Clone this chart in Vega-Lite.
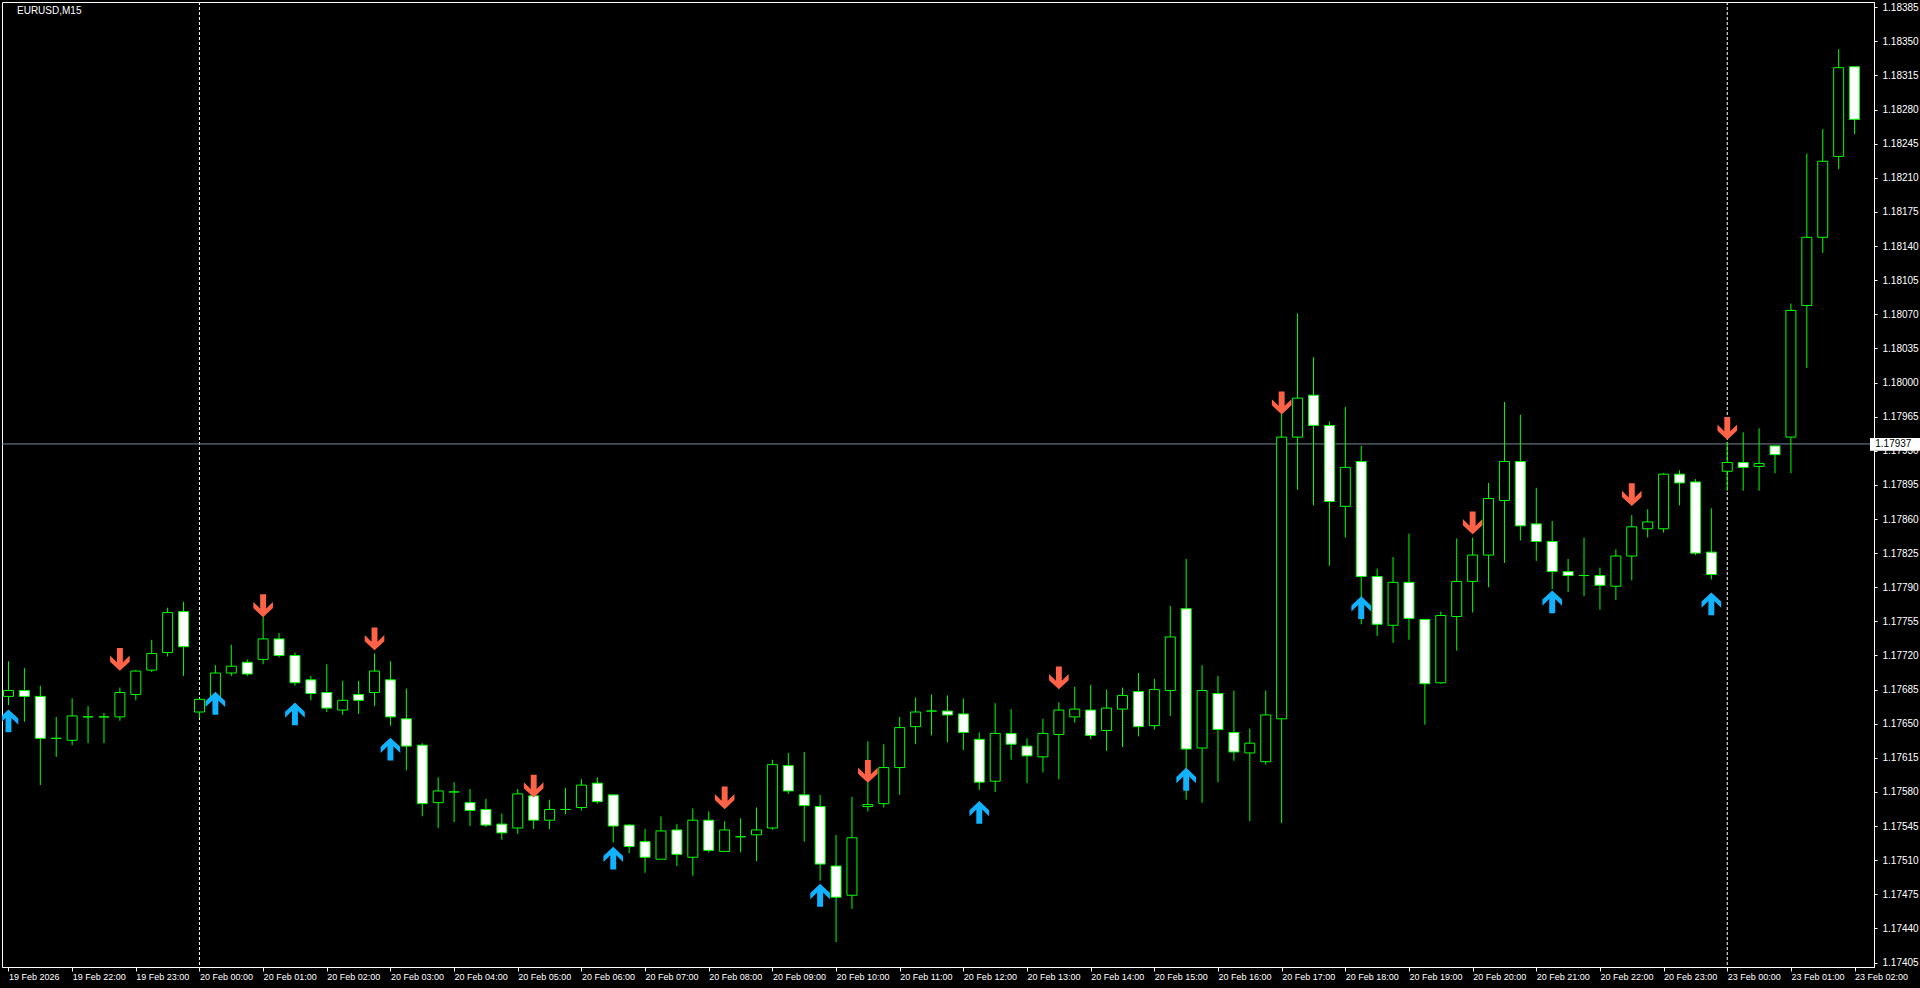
{
  "$schema": "https://vega.github.io/schema/vega-lite/v6.json",
  "width": 1872,
  "height": 965,
  "autosize": "none",
  "padding": {"left": 2, "top": 2, "right": 46, "bottom": 21},
  "background": "#000000",
  "config": {"view": {"fill": "#000000", "stroke": "#FFFFFF", "strokeWidth": 1}, "axis": {"grid": false, "labelOverlap": false, "labelFlush": false, "labelBound": false}},
  "title": {"text": "EURUSD,M15", "anchor": "start", "offset": -14, "dx": 15, "color": "#FFFFFF", "font": "Liberation Sans", "fontSize": 10, "fontWeight": "normal", "frame": "group"},
  "datasets": {
    "candles": [
      {"k":-12,"o":1.17678,"h":1.17714,"l":1.17669,"c":1.17684},
      {"k":-11,"o":1.17684,"h":1.17707,"l":1.17652,"c":1.17678},
      {"k":-10,"o":1.17678,"h":1.17689,"l":1.17587,"c":1.17635},
      {"k":-9,"o":1.17635,"h":1.17657,"l":1.17616,"c":1.17635},
      {"k":-8,"o":1.17633,"h":1.17676,"l":1.17628,"c":1.17658},
      {"k":-7,"o":1.17657,"h":1.17668,"l":1.17630,"c":1.17657},
      {"k":-6,"o":1.17657,"h":1.17661,"l":1.17630,"c":1.17657},
      {"k":-5,"o":1.17657,"h":1.17687,"l":1.17653,"c":1.17682},
      {"k":-4,"o":1.17680,"h":1.17705,"l":1.17674,"c":1.17704},
      {"k":-3,"o":1.17705,"h":1.17736,"l":1.17703,"c":1.17722},
      {"k":-2,"o":1.17723,"h":1.17769,"l":1.17719,"c":1.17764},
      {"k":-1,"o":1.17765,"h":1.17775,"l":1.17699,"c":1.17729},
      {"k":0,"o":1.17662,"h":1.17676,"l":1.17656,"c":1.17675},
      {"k":1,"o":1.17676,"h":1.17710,"l":1.17672,"c":1.17702},
      {"k":2,"o":1.17702,"h":1.17731,"l":1.17699,"c":1.17709},
      {"k":3,"o":1.17713,"h":1.17716,"l":1.17699,"c":1.17701},
      {"k":4,"o":1.17716,"h":1.17760,"l":1.17711,"c":1.17737},
      {"k":5,"o":1.17737,"h":1.17743,"l":1.17718,"c":1.17720},
      {"k":6,"o":1.17720,"h":1.17723,"l":1.17689,"c":1.17692},
      {"k":7,"o":1.17695,"h":1.17699,"l":1.17674,"c":1.17681},
      {"k":8,"o":1.17682,"h":1.17711,"l":1.17662,"c":1.17666},
      {"k":9,"o":1.17664,"h":1.17694,"l":1.17659,"c":1.17674},
      {"k":10,"o":1.17680,"h":1.17694,"l":1.17660,"c":1.17674},
      {"k":11,"o":1.17682,"h":1.17722,"l":1.17668,"c":1.17704},
      {"k":12,"o":1.17695,"h":1.17714,"l":1.17648,"c":1.17657},
      {"k":13,"o":1.17655,"h":1.17686,"l":1.17602,"c":1.17627},
      {"k":14,"o":1.17628,"h":1.17630,"l":1.17555,"c":1.17568},
      {"k":15,"o":1.17569,"h":1.17595,"l":1.17543,"c":1.17581},
      {"k":16,"o":1.17580,"h":1.17590,"l":1.17549,"c":1.17580},
      {"k":17,"o":1.17569,"h":1.17583,"l":1.17545,"c":1.17561},
      {"k":18,"o":1.17562,"h":1.17573,"l":1.17544,"c":1.17546},
      {"k":19,"o":1.17547,"h":1.17558,"l":1.17531,"c":1.17538},
      {"k":20,"o":1.17543,"h":1.17583,"l":1.17537,"c":1.17578},
      {"k":21,"o":1.17576,"h":1.17579,"l":1.17542,"c":1.17551},
      {"k":22,"o":1.17551,"h":1.17572,"l":1.17542,"c":1.17562},
      {"k":23,"o":1.17562,"h":1.17584,"l":1.17557,"c":1.17562},
      {"k":24,"o":1.17564,"h":1.17593,"l":1.17561,"c":1.17587},
      {"k":25,"o":1.17589,"h":1.17595,"l":1.17568,"c":1.17570},
      {"k":26,"o":1.17577,"h":1.17577,"l":1.17528,"c":1.17545},
      {"k":27,"o":1.17546,"h":1.17547,"l":1.17517,"c":1.17524},
      {"k":28,"o":1.17529,"h":1.17542,"l":1.17497,"c":1.17513},
      {"k":29,"o":1.17511,"h":1.17555,"l":1.17511,"c":1.17540},
      {"k":30,"o":1.17541,"h":1.17547,"l":1.17504,"c":1.17516},
      {"k":31,"o":1.17513,"h":1.17563,"l":1.17494,"c":1.17551},
      {"k":32,"o":1.17551,"h":1.17560,"l":1.17518,"c":1.17520},
      {"k":33,"o":1.17519,"h":1.17550,"l":1.17519,"c":1.17541},
      {"k":34,"o":1.17534,"h":1.17553,"l":1.17518,"c":1.17534},
      {"k":35,"o":1.17536,"h":1.17564,"l":1.17509,"c":1.17541},
      {"k":36,"o":1.17543,"h":1.17613,"l":1.17541,"c":1.17608},
      {"k":37,"o":1.17607,"h":1.17620,"l":1.17578,"c":1.17581},
      {"k":38,"o":1.17577,"h":1.17621,"l":1.17529,"c":1.17566},
      {"k":39,"o":1.17565,"h":1.17577,"l":1.17489,"c":1.17506},
      {"k":40,"o":1.17504,"h":1.17536,"l":1.17426,"c":1.17472},
      {"k":41,"o":1.17474,"h":1.17575,"l":1.17460,"c":1.17533},
      {"k":42,"o":1.17565,"h":1.17632,"l":1.17560,"c":1.17567},
      {"k":43,"o":1.17568,"h":1.17629,"l":1.17564,"c":1.17605},
      {"k":44,"o":1.17605,"h":1.17657,"l":1.17577,"c":1.17646},
      {"k":45,"o":1.17647,"h":1.17677,"l":1.17629,"c":1.17662},
      {"k":46,"o":1.17663,"h":1.17680,"l":1.17638,"c":1.17663},
      {"k":47,"o":1.17663,"h":1.17679,"l":1.17631,"c":1.17659},
      {"k":48,"o":1.17660,"h":1.17676,"l":1.17623,"c":1.17641},
      {"k":49,"o":1.17634,"h":1.17641,"l":1.17582,"c":1.17590},
      {"k":50,"o":1.17591,"h":1.17671,"l":1.17580,"c":1.17640},
      {"k":51,"o":1.17640,"h":1.17665,"l":1.17613,"c":1.17629},
      {"k":52,"o":1.17627,"h":1.17635,"l":1.17589,"c":1.17617},
      {"k":53,"o":1.17616,"h":1.17655,"l":1.17600,"c":1.17640},
      {"k":54,"o":1.17639,"h":1.17672,"l":1.17593,"c":1.17664},
      {"k":55,"o":1.17657,"h":1.17688,"l":1.17651,"c":1.17665},
      {"k":56,"o":1.17664,"h":1.17690,"l":1.17634,"c":1.17638},
      {"k":57,"o":1.17643,"h":1.17685,"l":1.17622,"c":1.17666},
      {"k":58,"o":1.17665,"h":1.17687,"l":1.17626,"c":1.17679},
      {"k":59,"o":1.17683,"h":1.17702,"l":1.17637,"c":1.17647},
      {"k":60,"o":1.17648,"h":1.17696,"l":1.17644,"c":1.17685},
      {"k":61,"o":1.17684,"h":1.17771,"l":1.17658,"c":1.17739},
      {"k":62,"o":1.17768,"h":1.17819,"l":1.17572,"c":1.17624},
      {"k":63,"o":1.17625,"h":1.17710,"l":1.17569,"c":1.17684},
      {"k":64,"o":1.17681,"h":1.17699,"l":1.17590,"c":1.17644},
      {"k":65,"o":1.17641,"h":1.17684,"l":1.17612,"c":1.17621},
      {"k":66,"o":1.17620,"h":1.17645,"l":1.17550,"c":1.17630},
      {"k":67,"o":1.17611,"h":1.17684,"l":1.17608,"c":1.17659},
      {"k":68,"o":1.17655,"h":1.17969,"l":1.17548,"c":1.17944},
      {"k":69,"o":1.17944,"h":1.18071,"l":1.17890,"c":1.17984},
      {"k":70,"o":1.17987,"h":1.18026,"l":1.17874,"c":1.17956},
      {"k":71,"o":1.17956,"h":1.17960,"l":1.17812,"c":1.17878},
      {"k":72,"o":1.17873,"h":1.17975,"l":1.17841,"c":1.17913},
      {"k":73,"o":1.17919,"h":1.17935,"l":1.17752,"c":1.17801},
      {"k":74,"o":1.17801,"h":1.17809,"l":1.17740,"c":1.17752},
      {"k":75,"o":1.17751,"h":1.17821,"l":1.17733,"c":1.17795},
      {"k":76,"o":1.17795,"h":1.17845,"l":1.17736,"c":1.17758},
      {"k":77,"o":1.17757,"h":1.17757,"l":1.17649,"c":1.17691},
      {"k":78,"o":1.17692,"h":1.17765,"l":1.17691,"c":1.17761},
      {"k":79,"o":1.17760,"h":1.17840,"l":1.17725,"c":1.17796},
      {"k":80,"o":1.17796,"h":1.17841,"l":1.17764,"c":1.17823},
      {"k":81,"o":1.17823,"h":1.17897,"l":1.17790,"c":1.17881},
      {"k":82,"o":1.17879,"h":1.17980,"l":1.17815,"c":1.17919},
      {"k":83,"o":1.17919,"h":1.17967,"l":1.17838,"c":1.17853},
      {"k":84,"o":1.17855,"h":1.17892,"l":1.17817,"c":1.17837},
      {"k":85,"o":1.17837,"h":1.17858,"l":1.17788,"c":1.17806},
      {"k":86,"o":1.17806,"h":1.17819,"l":1.17785,"c":1.17802},
      {"k":87,"o":1.17802,"h":1.17841,"l":1.17781,"c":1.17802},
      {"k":88,"o":1.17802,"h":1.17810,"l":1.17767,"c":1.17792},
      {"k":89,"o":1.17791,"h":1.17829,"l":1.17777,"c":1.17822},
      {"k":90,"o":1.17822,"h":1.17864,"l":1.17797,"c":1.17852},
      {"k":91,"o":1.17850,"h":1.17870,"l":1.17841,"c":1.17857},
      {"k":92,"o":1.17850,"h":1.17907,"l":1.17846,"c":1.17906},
      {"k":93,"o":1.17906,"h":1.17910,"l":1.17874,"c":1.17897},
      {"k":94,"o":1.17898,"h":1.17901,"l":1.17823,"c":1.17825},
      {"k":95,"o":1.17826,"h":1.17871,"l":1.17798,"c":1.17803},
      {"k":96,"o":1.17909,"h":1.17939,"l":1.17889,"c":1.17918},
      {"k":97,"o":1.17918,"h":1.17949,"l":1.17889,"c":1.17913},
      {"k":98,"o":1.17914,"h":1.17953,"l":1.17889,"c":1.17917},
      {"k":99,"o":1.17935,"h":1.17935,"l":1.17907,"c":1.17926},
      {"k":100,"o":1.17944,"h":1.18081,"l":1.17907,"c":1.18074},
      {"k":101,"o":1.18079,"h":1.18235,"l":1.18015,"c":1.18149},
      {"k":102,"o":1.18149,"h":1.18260,"l":1.18133,"c":1.18227},
      {"k":103,"o":1.18232,"h":1.18342,"l":1.18219,"c":1.18323},
      {"k":104,"o":1.18324,"h":1.18324,"l":1.18255,"c":1.18270}
    ],
    "arrows": [
      {"k":-5,"p":1.17716,"dir":"down"},
      {"k":4,"p":1.17771,"dir":"down"},
      {"k":11,"p":1.17737,"dir":"down"},
      {"k":21,"p":1.17586,"dir":"down"},
      {"k":33,"p":1.17574,"dir":"down"},
      {"k":42,"p":1.17601,"dir":"down"},
      {"k":54,"p":1.17697,"dir":"down"},
      {"k":68,"p":1.17979,"dir":"down"},
      {"k":80,"p":1.17856,"dir":"down"},
      {"k":90,"p":1.17885,"dir":"down"},
      {"k":96,"p":1.17953,"dir":"down"},
      {"k":-12,"p":1.17653,"dir":"up"},
      {"k":1,"p":1.17671,"dir":"up"},
      {"k":6,"p":1.17660,"dir":"up"},
      {"k":12,"p":1.17624,"dir":"up"},
      {"k":26,"p":1.17512,"dir":"up"},
      {"k":39,"p":1.17474,"dir":"up"},
      {"k":49,"p":1.17559,"dir":"up"},
      {"k":62,"p":1.17593,"dir":"up"},
      {"k":73,"p":1.17769,"dir":"up"},
      {"k":85,"p":1.17775,"dir":"up"},
      {"k":95,"p":1.17773,"dir":"up"}
    ],
    "days": [{"k":0},{"k":96}],
    "price": [{"p":1.17937,"lo":1.1793,"hi":1.17943,"x0":104.97,"x1":108.5,"xt":105.3,"label":"1.17937"}]
  },
  "layer": [
    {
      "data": {"name": "days"},
      "mark": {"type": "rule", "color": "#FFFFFF", "strokeWidth": 1, "strokeDash": [3, 2]},
      "encoding": {
        "x": {"field": "k", "type": "quantitative", "title": null, "scale": {"domain": [-12.09375, 104.90625], "nice": false, "zero": false}}
      }
    },
    {
      "data": {"name": "price"},
      "mark": {"type": "rule", "color": "#778899", "strokeWidth": 1},
      "encoding": {
        "y": {"field": "p", "type": "quantitative", "title": null, "scale": {"domain": [1.174004, 1.183904], "nice": false, "zero": false},
          "axis": {"orient": "right", "tickCount": 60, "values": [1.17405,1.1744,1.17475,1.1751,1.17545,1.1758,1.17615,1.1765,1.17685,1.1772,1.17755,1.1779,1.17825,1.1786,1.17895,1.1793,1.17965,1.18,1.18035,1.1807,1.18105,1.1814,1.18175,1.1821,1.18245,1.1828,1.18315,1.1835,1.18385],
            "format": ".5f", "labelColor": "#FFFFFF", "labelFont": "Liberation Sans", "labelFontSize": 10,
            "tickColor": "#FFFFFF", "tickSize": 3, "labelPadding": 5, "domainColor": "#FFFFFF",
            "labelOverlap": false, "labelFlush": false, "labelBound": false, "title": null, "grid": false}}
      }
    },
    {
      "data": {"name": "candles"},
      "mark": {"type": "rule", "color": "#00FF00", "strokeWidth": 1, "clip": true},
      "encoding": {
        "x": {"field": "k", "type": "quantitative", "title": null,
          "scale": {"domain": [-12.09375, 104.90625], "nice": false, "zero": false},
          "axis": {"tickCount": 60, "values": [-12,-8,-4,0,4,8,12,16,20,24,28,32,36,40,44,48,52,56,60,64,68,72,76,80,84,88,92,96,100,104],
            "labelExpr": "datum.value == -12 ? '19 Feb 2026' : datum.value < 0 ? '19 Feb ' + (24 + datum.value/4) + ':00' : datum.value < 96 ? '20 Feb ' + (datum.value < 40 ? '0' : '') + (datum.value/4) + ':00' : '23 Feb 0' + ((datum.value - 96)/4) + ':00'",
            "labelAlign": "left", "labelOffset": 0, "labelColor": "#FFFFFF", "labelFont": "Liberation Sans", "labelFontSize": 9,
            "tickColor": "#FFFFFF", "tickSize": 4, "labelPadding": 1, "domainColor": "#FFFFFF",
            "labelOverlap": false, "labelFlush": false, "labelBound": false, "title": null, "grid": false}},
        "y": {"field": "l", "type": "quantitative", "title": null,
          "scale": {"domain": [1.174004, 1.183904], "nice": false, "zero": false}},
        "y2": {"field": "h"}
      }
    },
    {
      "data": {"name": "candles"},
      "mark": {"type": "bar", "size": 10, "stroke": "#00FF00", "strokeWidth": 1, "clip": true},
      "encoding": {
        "x": {"field": "k", "type": "quantitative", "title": null, "scale": {"domain": [-12.09375, 104.90625], "nice": false, "zero": false}},
        "y": {"field": "o", "type": "quantitative", "title": null, "scale": {"domain": [1.174004, 1.183904], "nice": false, "zero": false}},
        "y2": {"field": "c"},
        "fill": {"condition": {"test": "datum.c < datum.o", "value": "#FFFFFF"}, "value": "#000000"}
      }
    },
    {
      "data": {"name": "arrows"},
      "mark": {"type": "point", "filled": true, "opacity": 1, "size": 520, "strokeWidth": 0, "clip": true},
      "encoding": {
        "x": {"field": "k", "type": "quantitative", "title": null, "scale": {"domain": [-12.09375, 104.90625], "nice": false, "zero": false}},
        "y": {"field": "p", "type": "quantitative", "title": null, "scale": {"domain": [1.174004, 1.183904], "nice": false, "zero": false}},
        "shape": {"field": "dir", "type": "nominal", "legend": null,
          "scale": {"domain": ["down", "up"], "range": ["M-0.26,-1L0.26,-1L0.26,0.25L0.86,-0.34L0.86,0.2L0,1L-0.86,0.2L-0.86,-0.34L-0.26,0.25Z", "M-0.26,1L0.26,1L0.26,-0.25L0.86,0.34L0.86,-0.2L0,-1L-0.86,-0.2L-0.86,0.34L-0.26,-0.25Z"]}},
        "color": {"field": "dir", "type": "nominal", "legend": null, "scale": {"domain": ["down", "up"], "range": ["#FF6347", "#12B2FF"]}}
      }
    },
    {
      "data": {"name": "price"},
      "mark": {"type": "rect", "color": "#FFFFFF"},
      "encoding": {
        "x": {"field": "x0", "type": "quantitative", "title": null, "scale": {"domain": [-12.09375, 104.90625], "nice": false, "zero": false}},
        "x2": {"field": "x1"},
        "y": {"field": "lo", "type": "quantitative", "title": null, "scale": {"domain": [1.174004, 1.183904], "nice": false, "zero": false}},
        "y2": {"field": "hi"}
      }
    },
    {
      "data": {"name": "price"},
      "mark": {"type": "text", "color": "#000000", "align": "left", "baseline": "middle", "font": "Liberation Sans", "fontSize": 10},
      "encoding": {
        "x": {"field": "xt", "type": "quantitative", "title": null, "scale": {"domain": [-12.09375, 104.90625], "nice": false, "zero": false}},
        "y": {"field": "p", "type": "quantitative", "title": null, "scale": {"domain": [1.174004, 1.183904], "nice": false, "zero": false}},
        "text": {"field": "label"}
      }
    }
  ]
}
